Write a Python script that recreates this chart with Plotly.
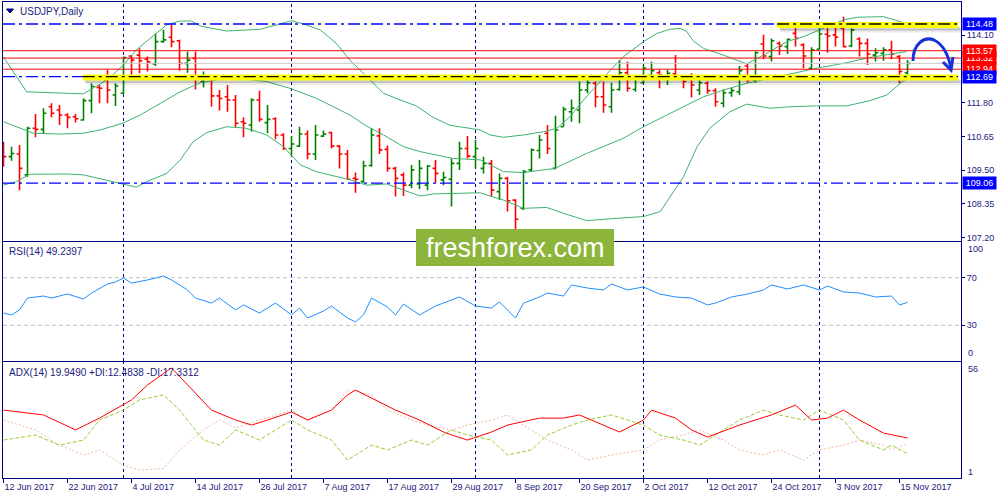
import plotly.graph_objects as go

# ---------------- data ----------------
bar_idx = list(range(114))
opens = [110.30,109.96,110.05,109.34,110.93,110.89,111.66,111.55,111.38,111.32,
         111.21,111.87,112.32,112.57,112.06,112.12,113.39,113.42,113.28,113.12,
         113.88,114.03,113.91,113.14,113.31,112.52,112.63,112.03,112.00,111.89,
         111.15,111.04,111.89,111.12,111.25,110.70,110.24,110.32,110.73,110.05,
         110.66,110.78,110.32,110.05,109.22,109.11,109.66,110.67,110.21,109.56,
         109.34,108.99,109.03,108.99,109.56,109.17,109.19,109.73,110.24,109.96,
         109.56,109.73,108.77,109.22,108.48,108.20,109.51,110.17,110.76,109.56,
         110.98,111.49,111.55,112.23,112.46,112.00,111.66,112.25,112.82,112.25,
         112.48,112.74,112.82,112.71,112.78,112.66,112.66,112.23,112.46,112.21,
         111.78,112.14,112.17,113.05,112.57,113.80,113.37,113.82,113.71,114.16,
         113.77,112.97,113.62,114.13,114.11,114.33,113.73,113.97,113.82,113.42,
         113.48,113.60,113.37,112.82]
highs = [110.47,110.30,110.36,110.98,111.41,111.61,111.78,111.72,111.44,111.41,
         111.95,112.46,112.40,112.91,112.46,113.37,113.42,113.65,113.37,114.16,
         114.28,114.48,113.94,113.54,113.54,112.86,112.66,112.23,112.40,112.06,
         111.30,111.95,112.21,111.72,111.30,110.76,110.66,110.98,110.85,111.04,
         110.85,110.81,110.36,110.19,109.42,109.82,110.93,110.93,110.34,109.62,
         109.42,109.68,109.85,109.68,109.85,109.45,109.90,110.47,110.66,110.53,
         109.96,109.85,109.39,109.28,108.51,109.51,110.24,110.70,111.04,111.35,
         111.66,111.91,112.52,112.69,112.52,112.52,112.48,113.25,113.20,112.69,
         113.08,113.20,112.91,112.91,113.42,112.74,112.80,112.57,112.52,112.29,
         112.25,112.32,113.05,113.12,113.54,114.11,113.99,113.88,113.99,114.45,
         113.82,113.69,114.41,114.41,114.45,114.73,114.33,114.03,113.99,113.65,
         113.69,113.91,113.42,113.25]
lows = [109.62,109.82,108.82,109.28,110.62,110.76,111.30,111.04,110.93,111.12,
        111.19,111.44,111.78,111.78,111.69,112.10,112.74,112.80,112.86,113.05,
        113.84,113.69,112.89,112.82,112.25,112.32,111.66,111.53,111.49,110.96,
        110.62,110.81,111.15,110.76,110.55,110.19,109.96,110.30,109.87,109.85,
        110.64,110.24,109.56,109.17,108.73,109.07,109.62,110.05,109.45,108.60,
        108.62,108.88,108.85,108.82,109.07,108.99,108.26,109.51,109.90,109.56,
        109.39,108.62,108.48,108.09,107.48,108.14,109.45,109.90,110.05,109.53,
        110.98,111.15,111.10,112.12,111.64,111.46,111.46,112.21,112.17,112.17,
        112.46,112.60,112.29,112.40,112.57,112.29,111.98,112.06,112.10,111.66,
        111.64,112.00,112.06,112.48,112.48,113.28,113.20,113.42,113.46,113.71,
        112.97,112.94,113.62,113.50,113.71,113.69,113.69,113.37,113.08,113.20,
        113.23,113.28,112.46,112.63]
closes = [109.96,110.07,109.56,110.93,110.89,111.44,111.44,111.38,111.30,111.25,
          111.87,112.35,112.29,112.23,112.37,113.34,113.25,113.23,113.19,113.88,
          113.94,113.88,113.14,113.25,112.60,112.66,112.03,111.94,111.89,111.10,
          111.10,111.89,111.23,111.23,110.70,110.24,110.39,110.73,110.05,110.70,
          110.73,110.32,110.05,109.19,109.19,109.65,110.70,110.19,109.56,109.22,
          108.99,109.51,109.56,109.64,109.39,109.25,109.73,110.24,109.98,110.24,
          109.73,108.82,109.22,108.46,107.83,109.45,110.19,110.53,110.24,110.87,
          111.57,111.61,112.23,112.48,112.00,111.72,112.23,112.82,112.29,112.66,
          112.97,112.89,112.74,112.80,112.63,112.52,112.40,112.48,112.21,111.83,
          112.14,112.21,112.89,112.57,113.50,113.39,113.91,113.73,113.96,113.99,
          113.39,113.60,114.14,114.07,114.03,113.71,114.28,113.82,113.46,113.50,
          113.60,113.46,112.86,113.14]

upper_x = [0,2.9,10,12.9,15,16.6,18.7,20.4,22.1,23.5,24.6,27.9,32.1,34.1,36,37.5,39.6,41.6,43.3,45.4,
           47.5,49.6,51.6,53.7,55.8,59.6,60.8,62.5,65,67.5,69.2,70.8,72.5,74.2,75.8,77.5,80,81.7,83.3,84.6,
           85.4,86.2,87.5,90,92.9,95,97.9,100,102.5,105,106.7,110,112.1,113]
upper_y = [113.35,112.17,112.10,112.57,113.08,113.60,114.07,114.45,114.58,114.58,114.41,114.24,114.30,114.45,114.59,114.48,114.28,113.82,113.25,112.69,
           112.12,111.89,111.69,111.30,111.03,110.87,110.70,110.62,110.70,110.81,110.93,111.32,111.89,112.40,112.89,113.37,113.88,114.16,114.30,114.33,
           114.22,113.91,113.65,113.42,113.12,113.42,113.88,114.05,114.33,114.62,114.71,114.73,114.56,114.48]
mid_x = [0,2.1,3.7,7.1,10,12.1,14.9,17.1,19.6,22.1,24.6,27.1,30.3,32.9,35.8,39.1,43.3,45.4,47.5,50,
         52.1,54.2,56.2,59.6,62.5,65,68.9,72.9,77.5,80,83.3,87.5,90,92.9,95.8,98.3,101.6,105,108.3,112.9]
mid_y = [111.15,110.93,110.76,110.73,110.76,110.87,111.10,111.38,111.78,112.17,112.48,112.60,112.60,112.52,112.29,111.95,111.38,111.00,110.70,110.30,
         110.13,110.02,109.90,109.85,109.45,109.42,109.56,110.07,110.59,110.98,111.44,112.00,112.23,112.46,112.63,112.78,112.97,113.14,113.34,113.54]
low_x = [0,1.6,3.3,7.9,10,13.3,15.4,16.6,17.9,20.4,22.1,23.7,25.4,27.9,30.3,32.9,35,37.1,39.1,43.3,
         45.4,47.9,50,52.1,53.7,59.6,60.8,62.5,65,67.9,70,72.9,76.7,80,82.1,83.3,85,86.7,88.3,90.8,
         92.9,95.8,98.3,101.6,105.4,108.3,110.4,112.1,113.3]
low_y = [108.99,109.11,109.36,109.37,109.34,109.13,108.99,108.92,109.11,109.39,109.85,110.47,110.78,110.98,110.93,110.70,110.30,109.68,109.45,109.17,
         108.99,109.03,108.82,108.62,108.69,108.73,108.62,108.48,108.20,108.23,108.03,107.78,107.86,107.92,108.09,108.60,109.28,110.30,110.93,111.49,
         111.75,111.61,111.66,111.69,111.69,111.87,112.06,112.46,112.69]

rsi_x = [0,1,2,3,5,6,7,8,10,11,13,14,15,16,18,20,21,23,24,26,27,29,30,32,34,36,37,38,40,41,
         43,44,45,46,48,49,50,52,54,56,57,59,61,62,64,65,67,68,70,71,73,75,76,78,80,82,84,86,88,89,
         91,93,95,96,98,100,102,103,105,107,109,111,112,113]
rsi_v = [40.3,38.7,42.9,52.9,54.6,52.9,54.6,56.3,52.1,57.1,64.7,66.4,69.7,65.5,68.1,71.4,68.1,59.7,52.9,48.7,
         52.9,42.9,47.1,40.3,48.7,38.7,44.5,36.1,42.0,46.2,36.1,32.8,38.7,52.9,45.4,38.7,47.9,38.7,46.2,51.3,
         53.8,46.2,44.5,49.6,36.1,48.7,53.8,57.1,54.6,63.9,61.3,59.7,64.7,59.7,62.2,56.3,53.8,52.9,47.1,48.7,
         53.8,56.3,59.7,63.9,60.5,63.9,59.7,63.0,58.0,57.1,53.8,54.6,47.1,49.24]

adx_x = [0,5,9,12,16,18,21,23,25,26,29,31,33,36,38,41,43,44,46,49,52,55,56,58,61,63,67,70,72,75,77,80,81,84,86,88,92,96,99,101,103,105,107,110,111,113]
adx_v = [33.2,30.9,23.8,29.4,38.0,45.1,53.2,45.1,37.0,33.2,28.5,26.1,28.5,32.3,28.5,33.2,40.4,42.7,38.9,33.2,28.5,22.8,21.4,19.0,22.8,26.1,29.4,29.4,30.9,26.1,22.8,28.5,33.2,29.4,23.8,20.4,26.1,30.9,35.6,28.5,29.4,33.2,28.5,22.3,21.4,19.95]
pdi_x = [0,4,7,10,12,15,17,20,22,25,27,29,32,36,38,41,43,46,48,51,53,56,58,61,63,66,68,71,73,76,80,82,85,87,90,92,95,97,100,102,105,107,110,111,113]
pdi_v = [19.0,21.4,16.6,19.0,28.5,33.2,38.0,40.4,33.2,19.0,16.6,23.8,19.0,28.5,23.8,19.0,9.5,16.6,14.3,19.0,16.6,23.8,21.4,19.0,11.9,14.3,21.4,26.1,28.5,30.9,26.1,21.4,19.0,16.6,23.8,28.5,33.2,30.9,28.5,33.2,28.5,19.0,14.3,16.6,12.48]
mdi_x = pdi_x
mdi_v = [28.5,23.8,16.6,11.9,14.3,7.1,4.7,5.6,14.3,23.8,28.5,24.7,28.5,33.2,28.5,33.2,42.7,40.4,33.2,28.5,26.1,23.8,26.1,28.5,30.9,23.8,19.0,14.3,9.5,11.9,14.3,19.0,21.4,23.8,19.0,14.3,11.9,14.3,9.5,14.3,16.6,19.0,16.6,14.3,17.33]

tick_idx = [0, 8, 16, 24, 32, 40, 48, 56, 64, 72, 80, 88, 96, 104, 112]
tick_labels = ["12 Jun 2017", "22 Jun 2017", "4 Jul 2017", "14 Jul 2017", "26 Jul 2017",
               "7 Aug 2017", "17 Aug 2017", "29 Aug 2017", "8 Sep 2017", "20 Sep 2017",
               "2 Oct 2017", "12 Oct 2017", "24 Oct 2017", "3 Nov 2017", "15 Nov 2017"]
sep_idx = [15, 36, 59, 80, 102]
price_ticks = [114.10, 111.80, 110.65, 109.50, 108.35, 107.20]
blue_levels = [114.48, 112.69, 109.06]
red_levels = [113.57, 113.32, 112.94]
bid_level = 113.14
yellow_levels = [114.48, 112.69]
yellow_start_idx = [96.7, 9.9]
rsi_levels = [70, 30]

# ---------------- layout helpers ----------------
W, H = 1000, 500
def px(x): return x / W
def py(y): return 1 - y / H

NAVY = "#000080"
TXT = "#1a1a80"
FONT = "Liberation Sans"
PX_PER_BAR = 8.0
X0, X1 = 3, 961
xr = [(X0 - 3.5) / PX_PER_BAR, (X1 - 3.5) / PX_PER_BAR]
K = 0.03407  # price per pixel in main panel
ymain = [114.48 - (241 - 24) * K, 114.48 + (24 - 2) * K]

fig = go.Figure()
fig.add_trace(go.Ohlc(x=bar_idx, open=opens, high=highs, low=lows, close=closes,
                      increasing=dict(line=dict(color="#008000", width=1.6)),
                      decreasing=dict(line=dict(color="#ff0000", width=1.6)),
                      tickwidth=0.36, xaxis="x", yaxis="y", hoverinfo="skip"))
for bx, by in [(upper_x, upper_y), (mid_x, mid_y), (low_x, low_y)]:
    fig.add_trace(go.Scatter(x=bx, y=by, mode="lines", line=dict(color="#3cb371", width=1),
                             xaxis="x", yaxis="y", hoverinfo="skip"))
fig.add_trace(go.Scatter(x=rsi_x, y=rsi_v, mode="lines", line=dict(color="#1e90ff", width=1),
                         xaxis="x2", yaxis="y2", hoverinfo="skip"))
fig.add_trace(go.Scatter(x=mdi_x, y=mdi_v, mode="lines", line=dict(color="#f5b7a0", width=1, dash="2px,2px"),
                         xaxis="x3", yaxis="y3", hoverinfo="skip"))
fig.add_trace(go.Scatter(x=pdi_x, y=pdi_v, mode="lines", line=dict(color="#9acd32", width=1, dash="4px,2px"),
                         xaxis="x3", yaxis="y3", hoverinfo="skip"))
fig.add_trace(go.Scatter(x=adx_x, y=adx_v, mode="lines", line=dict(color="#ff0000", width=1),
                         xaxis="x3", yaxis="y3", hoverinfo="skip"))

axc = dict(domain=[px(X0), px(X1)], range=xr, showgrid=False, zeroline=False, showline=True,
           mirror=True, linecolor=NAVY, linewidth=1)
ytick_font = dict(family=FONT, size=9, color=TXT)
layout = dict(
    width=W, height=H, margin=dict(l=0, r=0, t=0, b=0, autoexpand=False),
    paper_bgcolor="white", plot_bgcolor="white",
    showlegend=False, font=dict(family=FONT, size=9, color=TXT),
    xaxis=dict(**axc, anchor="y", showticklabels=False, ticks="", rangeslider=dict(visible=False)),
    xaxis2=dict(**axc, anchor="y2", matches="x", showticklabels=False, ticks=""),
    xaxis3=dict(**axc, anchor="y3", matches="x", tickvals=tick_idx, ticktext=tick_labels,
                ticks="outside", ticklen=4, tickcolor=NAVY, ticklabelposition="outside right",
                tickfont=ytick_font),
    yaxis=dict(domain=[py(241), py(2)], range=ymain, side="right", anchor="x", showgrid=False,
               zeroline=False, showline=True, mirror=True, linecolor=NAVY, tickvals=price_ticks,
               ticktext=[f"{v:.2f}" for v in price_ticks], ticks="outside", ticklen=3, tickcolor=NAVY,
               tickfont=ytick_font),
    yaxis2=dict(domain=[py(361), py(242)], range=[0, 100], side="right", anchor="x2", showgrid=False,
                zeroline=False, showline=True, mirror=True, linecolor=NAVY, tickvals=rsi_levels,
                ticktext=[str(v) for v in rsi_levels], ticks="outside", ticklen=3, tickcolor=NAVY,
                tickfont=ytick_font),
    yaxis3=dict(domain=[py(478), py(362)], range=[1, 56], side="right", anchor="x3", showgrid=False,
                zeroline=False, showline=True, mirror=True, linecolor=NAVY, showticklabels=False,
                ticks=""),
)
fig.update_layout(**layout)

shapes = []
# month separators
for s in sep_idx:
    for xa, ya in [("x", "y domain"), ("x2", "y2 domain"), ("x3", "y3 domain")]:
        shapes.append(dict(type="line", xref=xa, yref=ya, x0=s, x1=s, y0=0, y1=1,
                           line=dict(color=NAVY, width=1, dash="3px,3px"), layer="below"))
# rsi levels
for lv in rsi_levels:
    shapes.append(dict(type="line", xref="x2 domain", yref="y2", x0=0, x1=1, y0=lv, y1=lv,
                       line=dict(color="#c0c0c0", width=1, dash="4px,3px"), layer="below"))
# bid line and red levels
shapes.append(dict(type="line", xref="x domain", yref="y", x0=0, x1=1, y0=bid_level, y1=bid_level,
                   line=dict(color="#c8c8c8", width=1), layer="above"))
for lv in red_levels:
    shapes.append(dict(type="line", xref="x domain", yref="y", x0=0, x1=1, y0=lv, y1=lv,
                       line=dict(color="#ff0000", width=1), layer="above"))
# blue dash-dot levels
for lv in blue_levels:
    shapes.append(dict(type="line", xref="x domain", yref="y", x0=0, x1=1, y0=lv, y1=lv,
                       line=dict(color="#0000ff", width=1.3, dash="12px,4px,3px,4px"), layer="above"))
# yellow highlight bands
for lv, xs in zip(yellow_levels, yellow_start_idx):
    xe = (958 - 3.5) / PX_PER_BAR
    shapes.append(dict(type="rect", xref="x", yref="y", x0=xs + 0.3, x1=xe + 0.3,
                       y0=lv - 6.5 * K, y1=lv - 3.0 * K, fillcolor="rgba(0,0,0,0.18)", line=dict(width=0),
                       layer="above"))
    shapes.append(dict(type="rect", xref="x", yref="y", x0=xs + 0.5, x1=xe + 0.5,
                       y0=lv - 8.5 * K, y1=lv - 5.0 * K, fillcolor="rgba(0,0,0,0.08)", line=dict(width=0),
                       layer="above"))
    shapes.append(dict(type="rect", xref="x", yref="y", x0=xs, x1=xe, y0=lv - 4.0 * K, y1=lv + 2.0 * K,
                       fillcolor="#ffff00", line=dict(width=0), layer="above"))
    shapes.append(dict(type="line", xref="x", yref="y", x0=xs, x1=xe, y0=lv, y1=lv,
                       line=dict(color="#000000", width=1.3, dash="12px,4px,3px,4px"), layer="above"))

# title triangle
def P(x, y): return f"{px(x):.4f},{py(y):.4f}"
shapes.append(dict(type="path", xref="paper", yref="paper",
                   path=f"M {P(6.5,9)} L {P(13.5,9)} L {P(10,13)} Z",
                   fillcolor=NAVY, line=dict(color=NAVY, width=1)))
# hand-drawn blue arrow
shapes.append(dict(type="path", xref="paper", yref="paper",
                   path=f"M {P(913,61)} C {P(913,44)} {P(924,36)} {P(934,40)} C {P(943,44)} {P(949,56)} {P(951,69)}",
                   line=dict(color="#1432d6", width=3)))
shapes.append(dict(type="path", xref="paper", yref="paper",
                   path=f"M {P(943,62)} L {P(951,70)} L {P(953,57)}",
                   line=dict(color="#1432d6", width=3)))
# watermark box
shapes.append(dict(type="rect", xref="paper", yref="paper", x0=px(416), x1=px(614), y0=py(266), y1=py(229),
                   fillcolor="#8db53c", line=dict(width=0), layer="above"))
fig.update_layout(shapes=shapes)

ann = []
ann.append(dict(x=px(18), y=py(11), xref="paper", yref="paper", text="USDJPY,Daily", showarrow=False,
                xanchor="left", yanchor="middle", font=dict(family=FONT, size=10, color=TXT)))
ann.append(dict(x=px(7), y=py(251), xref="paper", yref="paper", text="RSI(14) 49.2397", showarrow=False,
                xanchor="left", yanchor="middle", font=dict(family=FONT, size=10, color=TXT)))
ann.append(dict(x=px(7), y=py(372), xref="paper", yref="paper",
                text="ADX(14) 19.9490 +DI:12.4838 -DI:17.3312", showarrow=False,
                xanchor="left", yanchor="middle", font=dict(family=FONT, size=10, color=TXT)))
# edge labels of indicator windows
for txt, yy in [("100", 249), ("0", 353), ("56", 369), ("1", 472)]:
    ann.append(dict(x=px(966), y=py(yy), xref="paper", yref="paper", text=txt, showarrow=False,
                    xanchor="left", yanchor="middle", font=ytick_font))
# boxed price labels
box_order = [(113.32, "#ff0000"), (112.94, "#ff0000"), (113.57, "#ff0000"), (112.69, "#0000ff"),
             (114.48, "#0000ff"), (109.06, "#0000ff")]
for lv, col in box_order:
    ann.append(dict(x=px(962), y=lv, xref="paper", yref="y", text=f"{lv:.2f}", showarrow=False,
                    xanchor="left", yanchor="middle", bgcolor=col, borderpad=1, width=31, align="center",
                    font=dict(family=FONT, size=9, color="white")))
ann.append(dict(x=px(515), y=py(247.5), xref="paper", yref="paper", text="freshforex.com", showarrow=False,
                xanchor="center", yanchor="middle", font=dict(family=FONT, size=27, color="white")))
fig.update_layout(annotations=ann)

fig.write_html("out.html", config={"displayModeBar": False},
               post_script="document.body.style.margin='0';document.body.style.padding='0';document.body.style.overflow='hidden';")
